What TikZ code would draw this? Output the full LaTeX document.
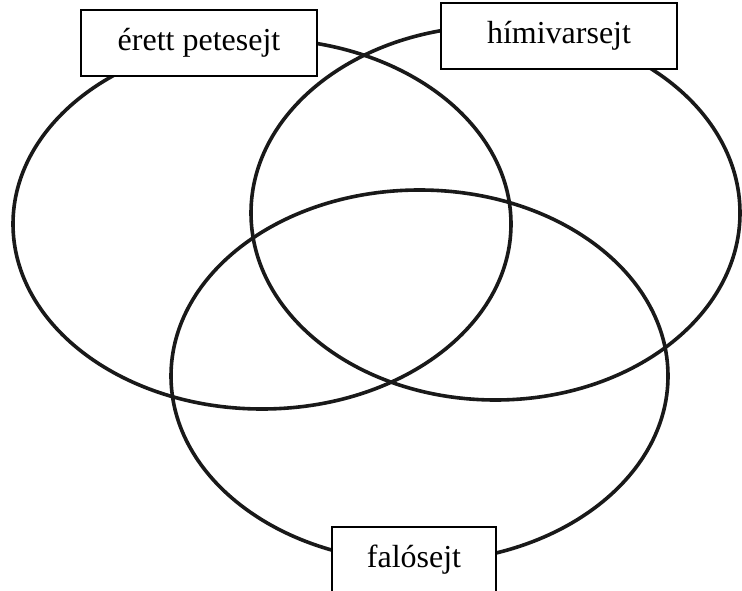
\documentclass[tikz,border=0pt]{standalone}
\usepackage{fontspec}
\setmainfont{Liberation Serif}
\begin{document}
\begin{tikzpicture}[x=1pt, y=-1pt,
        ring/.style={line width=3.6pt, color=black!90},
        tag/.style={draw, line width=1.8pt, fill=white, minimum height=66pt, inner sep=0pt,
            font=\fontsize{32}{38}\selectfont}]
        \useasboundingbox (0,0) rectangle (742,591);

        \draw[ring] (262,224) ellipse [x radius=249, y radius=185];
        \draw[ring] (495.5,213) ellipse [x radius=244.5, y radius=187];
        \draw[ring] (419.5,376) ellipse [x radius=248.5, y radius=186];

        \node[tag, minimum width=236pt] (egg) at (199,43) {érett petesejt};
        \node[tag, minimum width=236pt] (sperm) at (559,36) {hímivarsejt};
        \node[tag, minimum width=164pt] (phago) at (414,560) {falósejt};
    \end{tikzpicture}
\end{document}
